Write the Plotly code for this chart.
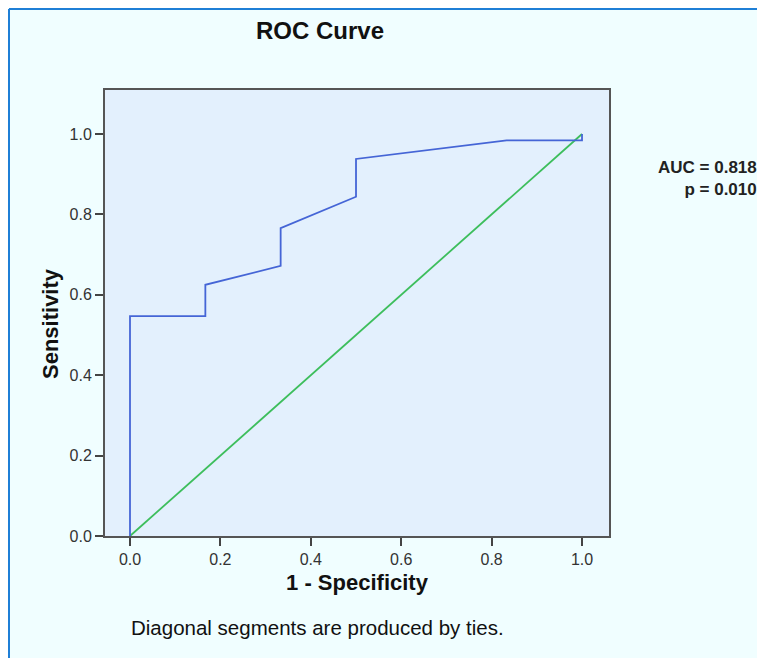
import plotly.graph_objects as go

# ROC curve data (1 - specificity, sensitivity)
fpr = [0.0, 0.0, 0.1667, 0.1667, 0.3333, 0.3333, 0.5, 0.5, 0.8333, 1.0, 1.0]
tpr = [0.0, 0.547, 0.547, 0.625, 0.672, 0.766, 0.844, 0.938, 0.984, 0.984, 1.0]
ref_x = [0.0, 1.0]
ref_y = [0.0, 1.0]
tick_vals = [0.0, 0.2, 0.4, 0.6, 0.8, 1.0]
tick_text = ["0.0", "0.2", "0.4", "0.6", "0.8", "1.0"]
auc_text = "AUC = 0.818"
p_text = "p = 0.010"

OFF = 8  # page body margin
W, H = 765 - OFF, 658 - OFF
L, T = 105 - OFF, 90 - OFF
R = W - (609 - OFF)
B = H - (536 - OFF)
pw, ph = W - L - R, H - T - B

def px(x):
    return (x - OFF - L) / pw

def py(y):
    return 1 - (y - OFF - T) / ph

fig = go.Figure()
fig.add_trace(go.Scatter(x=ref_x, y=ref_y, mode="lines",
                         line=dict(color="#3DBE5C", width=1.8), hoverinfo="skip"))
fig.add_trace(go.Scatter(x=fpr, y=tpr, mode="lines",
                         line=dict(color="#4565D6", width=1.8), hoverinfo="skip"))

font_main = "Liberation Sans, Arial, sans-serif"

fig.update_layout(
    width=W, height=H,
    margin=dict(l=L, r=R, t=T, b=B),
    paper_bgcolor="#F0FEFF",
    plot_bgcolor="#E3F0FD",
    showlegend=False,
    font=dict(family=font_main, color="#333333"),
    xaxis=dict(range=[-0.0553, 1.0597], tickvals=tick_vals, ticktext=tick_text,
               showgrid=False, zeroline=False, showline=True, mirror=True,
               linecolor="#555555", linewidth=2, ticks="outside", ticklen=8,
               tickcolor="#444444", tickwidth=2,
               tickfont=dict(size=16, color="#333333"),
               title=dict(text="<b>1 - Specificity</b>", font=dict(size=22, color="#111111"),
                          standoff=7)),
    yaxis=dict(range=[0.0, 1.1095], tickvals=tick_vals, ticktext=tick_text,
               showgrid=False, zeroline=False, showline=True, mirror=True,
               linecolor="#555555", linewidth=2, ticks="outside", ticklen=8,
               tickcolor="#444444", tickwidth=2,
               tickfont=dict(size=16, color="#333333")),
)

# outer blue frame (left and top)
fig.add_shape(type="line", xref="paper", yref="paper",
              x0=px(9), x1=px(9), y0=py(9), y1=py(H + 20),
              line=dict(color="#1F7FD6", width=2))
fig.add_shape(type="line", xref="paper", yref="paper",
              x0=px(9), x1=px(W + 20), y0=py(9), y1=py(9),
              line=dict(color="#1F7FD6", width=2))

fig.add_annotation(text="<b>Sensitivity</b>", xref="paper", yref="paper",
                   x=px(50), y=py(324), xanchor="center", yanchor="middle",
                   textangle=-90, showarrow=False,
                   font=dict(size=22, color="#111111", family=font_main))
fig.add_annotation(text="<b>ROC Curve</b>", xref="paper", yref="paper",
                   x=px(320), y=py(31), xanchor="center", yanchor="middle",
                   showarrow=False,
                   font=dict(size=24, color="#111111", family=font_main))
fig.add_annotation(text="<b>" + auc_text + "</b><br><b>" + p_text + "</b>",
                   xref="paper", yref="paper", x=px(759), y=py(178),
                   xanchor="right", yanchor="middle", align="right", showarrow=False,
                   font=dict(size=17, color="#222222", family=font_main))
fig.add_annotation(text="Diagonal segments are produced by ties.",
                   xref="paper", yref="paper", x=px(129), y=py(627),
                   xanchor="left", yanchor="middle", showarrow=False,
                   font=dict(size=20.5, color="#111111", family=font_main))

fig.write_html("out.html")
